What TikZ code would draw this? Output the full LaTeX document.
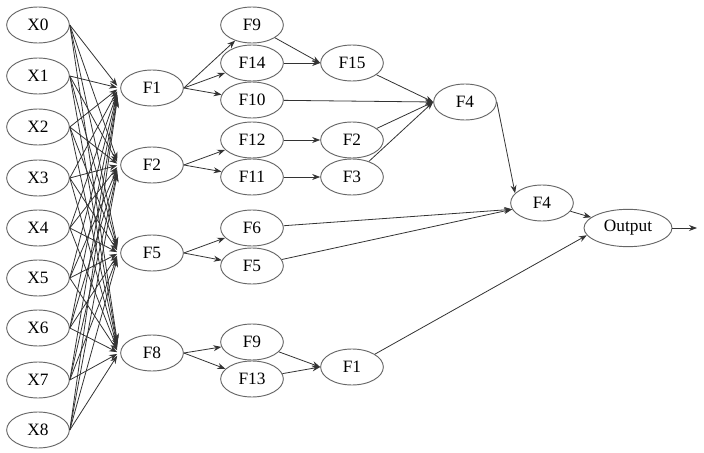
\documentclass[tikz,border=0pt]{standalone}
\usepackage{fontspec}
\setmainfont{Liberation Serif}
\usetikzlibrary{shapes.geometric,arrows.meta,calc}
\begin{document}
\begin{tikzpicture}[x=0.75pt,y=-0.75pt,
  ell/.style={draw=black!60,line width=0.7pt,ellipse,inner sep=0pt,minimum width=47pt,minimum height=27pt,font=\fontsize{13}{15}\selectfont},
  wide/.style={ell,minimum width=66pt,minimum height=28pt},
  edge/.style={draw=black!80,line width=0.6pt,-{Stealth[length=6pt,width=4.5pt]}}]
\useasboundingbox (0,0) rectangle (704,453);
% inputs
\foreach \i/\y in {0/25,1/76,2/127,3/178,4/228,5/278,6/328,7/380,8/430}
  \node[ell] (X\i) at (38,\y) {X\i};
% hidden layer 1
\node[ell] (F1) at (152,88) {F1};
\node[ell] (F2) at (152,165) {F2};
\node[ell] (F5) at (152,253) {F5};
\node[ell] (F8) at (152,353) {F8};
% column 3
\node[ell] (F9a) at (252,25) {F9};
\node[ell] (F14) at (252,63) {F14};
\node[ell] (F10) at (252,100) {F10};
\node[ell] (F12) at (252,140) {F12};
\node[ell] (F11) at (252,177) {F11};
\node[ell] (F6) at (252,228) {F6};
\node[ell] (F5b) at (252,266) {F5};
\node[ell] (F9b) at (252,342) {F9};
\node[ell] (F13) at (252,379) {F13};
% column 4
\node[ell] (F15) at (352,63) {F15};
\node[ell] (F2b) at (352,140) {F2};
\node[ell] (F3) at (352,177) {F3};
\node[ell] (F1b) at (352,367) {F1};
% later
\node[ell] (F4a) at (465,102) {F4};
\node[ell] (F4b) at (542,203) {F4};
\node[wide] (Out) at (628,228) {Output};
\coordinate (end) at (697,228);
% input edges
\foreach \i/\y in {0/25,1/76,2/127,3/178,4/228,5/278,6/328,7/380,8/430}
  \foreach \f/\fy in {F1/88,F2/165,F5/253,F8/353}{
    \pgfmathsetmacro{\off}{(\y-\fy)*0.035}
    \draw[edge] (X\i.east) -- ($(\f.west)+(-3,\off)$);
  }
% layer edges
\foreach \t in {F9a,F14,F10} \draw[edge] (F1.east) -- (\t);
\foreach \t in {F12,F11} \draw[edge] (F2.east) -- (\t);
\foreach \t in {F6,F5b} \draw[edge] (F5.east) -- (\t);
\foreach \t in {F9b,F13} \draw[edge] (F8.east) -- (\t);
\draw[edge] (F9a) -- (F15.west);
\draw[edge] (F14) -- (F15.west);
\draw[edge] (F12) -- (F2b);
\draw[edge] (F11) -- (F3);
\draw[edge] (F9b) -- (F1b.west);
\draw[edge] (F13) -- (F1b.west);
\draw[edge] (F15) -- (F4a.west);
\draw[edge] (F10) -- (F4a.west);
\draw[edge] (F2b) -- (F4a.west);
\draw[edge] (F3) -- (F4a.west);
\draw[edge] (F6) -- (F4b.192);
\draw[edge] (F5b) -- (F4b.192);
\draw[edge] (F4a.east) -- (F4b.160);
\draw[edge] (F4b) -- (Out);
\draw[edge] (F1b) -- (Out.190);
\draw[edge] (Out.east) -- (end);
\end{tikzpicture}
\end{document}
